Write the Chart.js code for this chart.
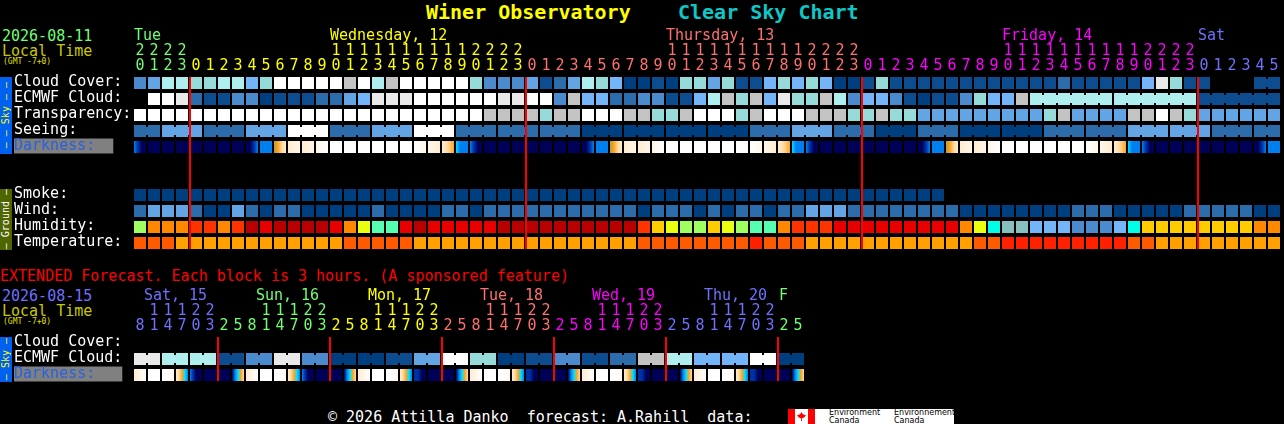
<!DOCTYPE html>
<html>
<head>
<meta charset="utf-8">
<title>Winer Observatory Clear Sky Chart</title>
<script src="https://cdn.jsdelivr.net/npm/chart.js@4/dist/chart.umd.js"></script>
<style>
  html, body { margin: 0; background: #000; width: 1284px; height: 424px; overflow: hidden; }
  body { position: relative; font-family: "DejaVu Sans Mono", monospace; font-size: 15px; }
  canvas { position: absolute; left: 0; }
  .t { position: absolute; white-space: pre; line-height: 16px; }
  .title { font-size: 20px; font-weight: bold; line-height: 24px; }
  .gmt { font-size: 8px; line-height: 8px; color: #e0e000; }
  .bar { position: absolute; left: 0; width: 12px; display: flex; align-items: center; justify-content: center; }
  .bar span { font-size: 10px; line-height: 12px; white-space: pre; writing-mode: vertical-rl; transform: rotate(180deg); }
  #logo { position: absolute; left: 788px; top: 409px; width: 166px; height: 15px; background: #fff; overflow: hidden; }
  #logo div { position: absolute; }
  #logo .w { font: 8px/7.5px "DejaVu Sans", sans-serif; color: #000; top: 0; white-space: pre; }
</style>
</head>
<body>
<div class="t title" style="left:426px;top:0;color:#ffff00">Winer Observatory</div>
<div class="t title" style="left:678px;top:0;color:#0cc8c8">Clear Sky Chart</div>

<div class="t" style="left:2px;top:28px;color:#70ff70">2026-08-11</div>
<div class="t" style="left:2px;top:43px;color:#c8c800">Local Time</div>
<div class="t gmt" style="left:3px;top:58px">(GMT -7+0)</div>

<div class="t" style="left:0;top:268px;color:#ff0000">EXTENDED Forecast. Each block is 3 hours. (A sponsored feature)</div>
<div class="t" style="left:2px;top:288px;color:#7070ff">2026-08-15</div>
<div class="t" style="left:2px;top:303px;color:#c8c800">Local Time</div>
<div class="t gmt" style="left:3px;top:318px">(GMT -7+0)</div>

<div class="bar" style="top:77px;height:77px;background:#0060f0;color:#ffff00"><span>– – Sky – –</span></div>
<div class="bar" style="top:189px;height:61px;background:#4f6600;color:#ffffff"><span>– Ground –</span></div>
<div class="bar" style="top:337px;height:45px;background:#0060f0;color:#ffff00"><span>– Sky –</span></div>

<canvas id="mainChart" width="1284" height="252" style="top:0"></canvas>
<canvas id="extChart" width="1284" height="124" style="top:260px"></canvas>

<div class="t" style="left:328px;top:409px;color:#ffffff">© 2026 Attilla Danko  forecast: A.Rahill  data:</div>
<div id="logo">
  <div style="left:0;top:0;width:7px;height:15px;background:#ff0000"></div>
  <div style="left:20px;top:0;width:7px;height:15px;background:#ff0000"></div>
  <div style="left:9px;top:3px;width:9px;height:9px;background:#ff0000;clip-path:polygon(50% 0,65% 25%,100% 35%,80% 60%,55% 70%,55% 100%,45% 100%,45% 70%,20% 60%,0 35%,35% 25%)"></div>
  <div class="w" style="left:41px">Environment
Canada</div>
  <div class="w" style="left:106px">Environnement
Canada</div>
</div>

<script>
// colour scales, one step per forecast level
const cloudColors = ['#003f7f', '#0d4c8e', '#2c6cab', '#4b8bcd', '#62a4e4', '#74b4f8',
  '#97dada', '#aeeeee', '#c3c3c3', '#e9e9e9', '#ffffff'];
const humidityColors = ['#b90000', '#e80000', '#ff3300', '#ff8800', '#ffcc00', '#eaff10',
  '#a0ff60', '#55ffb0', '#00ffe8', '#88c0c0', '#74b4f8', '#4b8bcd'];
const tempColors = ['#ff2000', '#ff5a00', '#ffa000'];
const darkColors = ['#000058', '#0030a8', '#0080f0', '#00e0ff', '#b0a040',
  '#ffa520', '#ffd9a0', '#ffecd0', '#fff6e8', '#ffffff'];

const green = '#70ff70', yellow = '#ffff00', salmon = '#ff7070', magenta = '#ff00ff', blue = '#7070ff';

// hourly chart
const hours = [20, 21, 22, 23,
  0, 1, 2, 3, 4, 5, 6, 7, 8, 9, 10, 11, 12, 13, 14, 15, 16, 17, 18, 19, 20, 21, 22, 23,
  0, 1, 2, 3, 4, 5, 6, 7, 8, 9, 10, 11, 12, 13, 14, 15, 16, 17, 18, 19, 20, 21, 22, 23,
  0, 1, 2, 3, 4, 5, 6, 7, 8, 9, 10, 11, 12, 13, 14, 15, 16, 17, 18, 19, 20, 21, 22, 23,
  0, 1, 2, 3, 4, 5];
const hourColors = [green, yellow, salmon, magenta, blue];
const hourDayStarts = [0, 4, 28, 52, 76];
const dayLabels = ['Tue', 'Wednesday, 12', 'Thursday, 13', 'Friday, 14', 'Sat'];
const dayLabelCols = [0, 14, 38, 62, 76];
const midnights = [4, 28, 52, 76];

const rowLabels = ['Cloud Cover:', 'ECMWF Cloud:', 'Transparency:', 'Seeing:', 'Darkness:', '', '',
  'Smoke:', 'Wind:', 'Humidity:', 'Temperature:'];

const cloudCover = [3, 4, 7, 7, 6, 6, 7, 7, 5, 6,
  10, 10, 10, 10, 10, 8, 10, 7, 8, 10,
  10, 10, 10, 10, 6, 3, 3, 3, 4, 1,
  2, 4, 7, 6, 5, 0, 0, 1, 0, 6,
  6, 4, 6, 1, 1, 5, 6, 5, 6, 5,
  0, 0, 1, 6, 1, 1, 1, 1, 1, 1,
  1, 1, 1, 1, 1, 1, 2, 1, 1, 1,
  1, 1, 5, 9, 6, 1, 1, null, null, null,
  1, 1];
const ecmwfCloud = [null, 10, 10, 9, 2, 1, 1, 3, 3, 0,
  1, 1, 1, 2, 2, 4, 5, 9, 9, 9,
  10, 10, 10, 10, 10, 10, 9, 9, 10, 10,
  3, 8, 5, 5, 2, 2, 3, 3, 1, 1,
  5, 7, 8, 6, 8, 5, 9, 6, 6, 8,
  7, 3, 5, 5, 3, 1, 0, 1, 1, 3,
  6, 5, 5, 8, 7, 7, 7, 7, 7, 7,
  7, 7, 7, 7, 7, 7, 1, 1, 1, 1,
  1, 1];
const transparency = [10, 10, 10, 10, 10, 10, 10, 10, 10, 10,
  10, 10, 10, 10, 10, 10, 10, 10, 10, 10,
  10, 10, 10, 10, 10, 8, 8, 8, 8, 6,
  8, 8, 10, 10, 10, 8, 8, 6, 6, 8,
  10, 10, 10, 6, 8, 10, 10, 10, 8, 8,
  8, 6, 6, 8, 6, 6, 4, 4, 4, 4,
  4, 4, 4, 4, 4, 6, 8, 4, 4, 4,
  4, 8, 8, 10, 8, 6, 4, 4, 4, 4,
  4, 4];
// seeing comes in 3 hour blocks
const seeingBlocks = [2, 4, 2, 4, 10, 2, 4, 10, 2, 2, 2, 0, 0, 0, 0, 2, 4, 2, 0, 2, 0, 0, 2, 2, 4, 4, 2, 2];
const seeingSpans = [2, 3, 3, 3, 3, 3, 3, 3, 3, 3, 3, 3, 3, 3, 3, 3, 3, 3, 3, 3, 3, 3, 3, 3, 3, 3, 3, 2];
const smoke = [0, 0, 0, 0, 0, 0, 0, 0, 0, 0,
  0, 0, 0, 0, 0, 0, 0, 0, 0, 0,
  0, 0, 0, 0, 0, 0, 0, 0, 0, 0,
  0, 0, 0, 0, 0, 0, 0, 0, 0, 0,
  0, 0, 0, 0, 0, 0, 0, 0, 0, 0,
  0, 0, 0, 0, 0, 0, 0, 0];
const wind = [2, 4, 4, 4, 2, 0, 0, 4, 2, 0,
  2, 2, 0, 0, 0, 0, 0, 2, 0, 0,
  0, 0, 2, 2, 0, 2, 2, 2, 2, 2,
  2, 2, 2, 2, 2, 2, 0, 2, 2, 2,
  0, 2, 0, 2, 2, 0, 2, 2, 4, 4,
  4, 2, 2, 2, 2, 2, 2, 2, 2, 0,
  0, 0, 0, 0, 0, 0, 0, 2, 2, 2,
  0, 0, 0, 0, 0, 2, 2, 2, 2, 2,
  0, 0];
const humidity = [6, 3, 3, 3, 2, 2, 3, 2, 0, 1,
  0, 0, 0, 0, 1, 3, 5, 7, 7, 1,
  0, 1, 1, 1, 1, 1, 0, 0, 0, 0,
  0, 0, 0, 0, 0, 0, 2, 4, 5, 6,
  6, 4, 5, 6, 7, 7, 3, 2, 2, 2,
  1, 1, 1, 1, 1, 1, 1, 1, 1, 3,
  5, 8, 9, 9, 10, 10, 10, 11, 11, 11,
  10, 8, 4, 4, 4, 4, 4, 4, 4, 4,
  3, 3];
const temperature = [1, 1, 1, 2, 2, 2, 2, 2, 2, 2,
  2, 2, 2, 2, 2, 1, 1, 1, 1, 1,
  2, 2, 2, 2, 2, 2, 2, 2, 2, 2,
  2, 2, 2, 2, 2, 2, 1, 1, 1, 1,
  1, 1, 1, 1, 0, 1, 1, 1, 2, 2,
  2, 2, 2, 2, 2, 2, 2, 2, 2, 2,
  1, 1, 0, 0, 0, 0, 0, 0, 0, 0,
  0, 1, 1, 2, 2, 2, 2, 2, 2, 2,
  2, 2];

// darkness: colour steps across each block, left to right
const nt = [0, 0], wh = [9, 9], am = [0, 0, 1, 2], bl = [2, 2], rise = [4, 5, 6, 7];
const eve = [7, 6, 5], dusk = [3, 2, 2, 2], fall = [2, 1, 0, 0];
const darkness = [fall, nt, nt, nt, nt, nt, nt, nt, am, bl,
  rise, [7, 8], [7, 8], [8, 9], wh, wh, wh, wh, wh, wh, [9, 8], [8, 7], eve, dusk,
  fall, nt, nt, nt, nt, nt, nt, nt, am, bl,
  rise, [7, 8], [7, 8], [8, 9], wh, wh, wh, wh, wh, wh, [9, 8], [8, 7], eve, dusk,
  fall, nt, nt, nt, nt, nt, nt, nt, am, bl,
  rise, [7, 8], [7, 8], [8, 9], wh, wh, wh, wh, wh, wh, [9, 8], [8, 7], eve, dusk,
  fall, nt, nt, nt, nt, nt, nt, nt, am, bl];

// extended chart, each block covers two columns
const extHours = [8, 11, 14, 17, 20, 23,
  2, 5, 8, 11, 14, 17, 20, 23,
  2, 5, 8, 11, 14, 17, 20, 23,
  2, 5, 8, 11, 14, 17, 20, 23,
  2, 5, 8, 11, 14, 17, 20, 23,
  2, 5, 8, 11, 14, 17, 20, 23,
  2, 5];
const extHourColors = [blue, green, yellow, salmon, magenta, blue, green];
const extDayStarts = [0, 6, 14, 22, 30, 38, 46];
const extDayNames = ['Sat, 15', 'Sun, 16', 'Mon, 17', 'Tue, 18', 'Wed, 19', 'Thu, 20', 'F'];
const extDayCols = [0.71, 8.71, 16.71, 24.71, 32.71, 40.71, 46.07];
const extMidnights = [6, 14, 22, 30, 38, 46];
const extRowLabels = ['Cloud Cover:', 'ECMWF Cloud:', 'Darkness:'];
const extEcmwf = [9, 7, 7, 1, 3, 9, 3, 0, 0, 1, 4, 10,
  6, 0, 1, 3, 1, 2, 8, 7, 5, 5, 10, 0];
const rest = [9, 9, 8], low = [7, 6, 5, 3, 2], ebb = [2, 1, 0, 0, 0], wide = [1, 1, 0, 0], dawn = [0, 2, 3, 5, 6], open = [7, 9];
const extDarkness = [open, wh, rest, low, ebb, nt, nt, dawn,
  open, wh, rest, low, ebb, nt, nt, dawn,
  open, wh, rest, low, wide, nt, nt, dawn,
  open, wh, rest, low, wide, nt, nt, dawn,
  open, wh, rest, low, wide, nt, nt, dawn,
  open, wh, rest, low, wide, nt, nt, dawn];

Chart.defaults.font.family = '"DejaVu Sans Mono", monospace';
Chart.defaults.font.size = 15;
Chart.defaults.animation = false;

const cellOpts = { grouped: false, barThickness: 12, barPercentage: 1, categoryPercentage: 1, inflateAmount: 0, borderWidth: 0, order: 2 };

function cells(row, values, colors) {
  const data = [], bg = [];
  values.forEach((v, i) => {
    if (v === null) return;
    data.push({ x: i, y: [row - 0.375, row + 0.375] });
    bg.push(colors[v]);
  });
  return Object.assign({}, cellOpts, { data: data, backgroundColor: bg });
}

// gradient cells for the darkness row
function darkCells(row, stops) {
  return Object.assign({}, cellOpts, {
    data: stops.map((s, i) => ({ x: i, y: [row - 0.375, row + 0.375] })),
    backgroundColor: function (ctx) {
      if (ctx.type !== 'data') return 'transparent';
      const mid = ctx.chart.scales.x.getPixelForValue(ctx.dataIndex);
      if (!isFinite(mid)) return 'transparent';   // scale not laid out yet
      const g = ctx.chart.ctx.createLinearGradient(mid - 6, 0, mid + 6, 0);
      const s = stops[ctx.dataIndex];
      s.forEach((c, i) => g.addColorStop(i / (s.length - 1), darkColors[c]));
      return g;
    }
  });
}

// small joins between blocks of the same forecast
function joins(row, values, colors, runs) {
  const data = [], bg = [];
  runs.forEach(r => {
    for (let i = r[0]; i < r[1]; i++) {
      data.push({ x: i + 0.5, y: [row - 0.25, row + 0.25] });
      bg.push(colors[values[i]]);
    }
  });
  return Object.assign({}, cellOpts, { barThickness: 2, data: data, backgroundColor: bg });
}

function redLines(cols, lastRow) {
  return Object.assign({}, cellOpts, {
    barThickness: 2, order: 1,
    data: cols.map(c => ({ x: c - 3 / 7, y: [-0.375, lastRow + 0.375] })),
    backgroundColor: '#ff0000'
  });
}

const dayText = {
  id: 'dayText',
  afterDraw(chart, args, opts) {
    const c = chart.ctx;
    c.save();
    c.font = '15px "DejaVu Sans Mono", monospace';
    c.textBaseline = 'middle';
    c.textAlign = 'left';
    opts.labels.forEach((l, i) => {
      c.fillStyle = opts.colors[i];
      c.fillText(l, chart.scales.x.getPixelForValue(opts.cols[i]) - 6, chart.chartArea.top - 39);
    });
    c.restore();
  }
};

function tickColor(starts, colors) {
  return ctx => {
    let d = 0;
    starts.forEach((s, i) => { if (ctx.index >= s) d = i; });
    return colors[d];
  };
}

function makeOptions(colHours, labels, colorFn, rightPad, dayOpts) {
  return {
    responsive: false,
    devicePixelRatio: 1,
    events: [],
    layout: { padding: { left: 14, right: rightPad, top: 0, bottom: 1 } },
    plugins: { legend: { display: false }, tooltip: { enabled: false }, dayText: dayOpts },
    scales: {
      x: {
        type: 'linear', position: 'top', offset: false,
        min: -0.5, max: colHours.length - 0.5,
        grid: { display: false, drawTicks: false, offset: false }, border: { display: false },
        afterBuildTicks: s => { s.ticks = colHours.map((h, i) => ({ value: i })); },
        afterFit: s => { s.height = 75; s.paddingLeft = 0; s.paddingRight = 0; },
        ticks: {
          autoSkip: false, maxRotation: 0, minRotation: 0, padding: 1,
          font: { size: 15, lineHeight: 1.0 },
          color: colorFn,
          callback: (v, i) => {
            const h = colHours[i];
            return h < 10 ? ['', String(h)] : [String(Math.floor(h / 10)), String(h % 10)];
          }
        }
      },
      y: {
        type: 'linear', position: 'left', reverse: true,
        min: -0.5, max: labels.length - 0.5,
        grid: { display: false, drawTicks: false }, border: { display: false },
        afterBuildTicks: s => { s.ticks = labels.map((l, i) => ({ value: i })); },
        afterFit: s => { s.width = 119; s.paddingTop = 0; s.paddingBottom = 0; },
        ticks: {
          autoSkip: false, crossAlign: 'far', labelOffset: -1,
          font: { size: 15, lineHeight: 1.0 },
          color: ctx => labels[ctx.index] === 'Darkness:' ? '#2860e0' : '#ffffff',
          showLabelBackdrop: ctx => labels[ctx.index] === 'Darkness:',
          backdropColor: '#808080',
          backdropPadding: { left: 0, right: dayOpts.backRight, top: 0, bottom: 0 },
          callback: (v, i) => labels[i]
        }
      }
    }
  };
}

const seeing = seeingBlocks.flatMap((b, i) => Array(seeingSpans[i]).fill(b));
const seeingRuns = [];
seeingSpans.reduce((at, n) => { seeingRuns.push([at, at + n - 1]); return at + n; }, 0);

new Chart(document.getElementById('mainChart'), {
  type: 'bar',
  plugins: [dayText],
  data: {
    datasets: [
      redLines(midnights, 10),
      cells(0, cloudCover, cloudColors),
      joins(0, cloudCover, cloudColors, [[80, 81]]),
      cells(1, ecmwfCloud, cloudColors),
      joins(1, ecmwfCloud, cloudColors, [[64, 69], [70, 75], [76, 81]]),
      cells(2, transparency, cloudColors),
      cells(3, seeing, cloudColors),
      joins(3, seeing, cloudColors, seeingRuns),
      darkCells(4, darkness),
      cells(7, smoke, cloudColors),
      cells(8, wind, cloudColors),
      cells(9, humidity, humidityColors),
      cells(10, temperature, tempColors)
    ]
  },
  options: makeOptions(hours, rowLabels, tickColor(hourDayStarts, hourColors), 3, {
    labels: dayLabels, cols: dayLabelCols, backRight: 18,
    colors: hourColors
  })
});

const extCells = extEcmwf.flatMap(v => [v, v]);
const extRuns = extEcmwf.map((v, i) => [i * 2, i * 2 + 1]);

new Chart(document.getElementById('extChart'), {
  type: 'bar',
  plugins: [dayText],
  data: {
    datasets: [
      redLines(extMidnights, 2),
      cells(1, extCells, cloudColors),
      joins(1, extCells, cloudColors, extRuns),
      darkCells(2, extDarkness)
    ]
  },
  options: makeOptions(extHours, extRowLabels, tickColor(extDayStarts, extHourColors), 479, {
    labels: extDayNames, cols: extDayCols, backRight: 27,
    colors: extHourColors
  })
});
</script>
</body>
</html>
